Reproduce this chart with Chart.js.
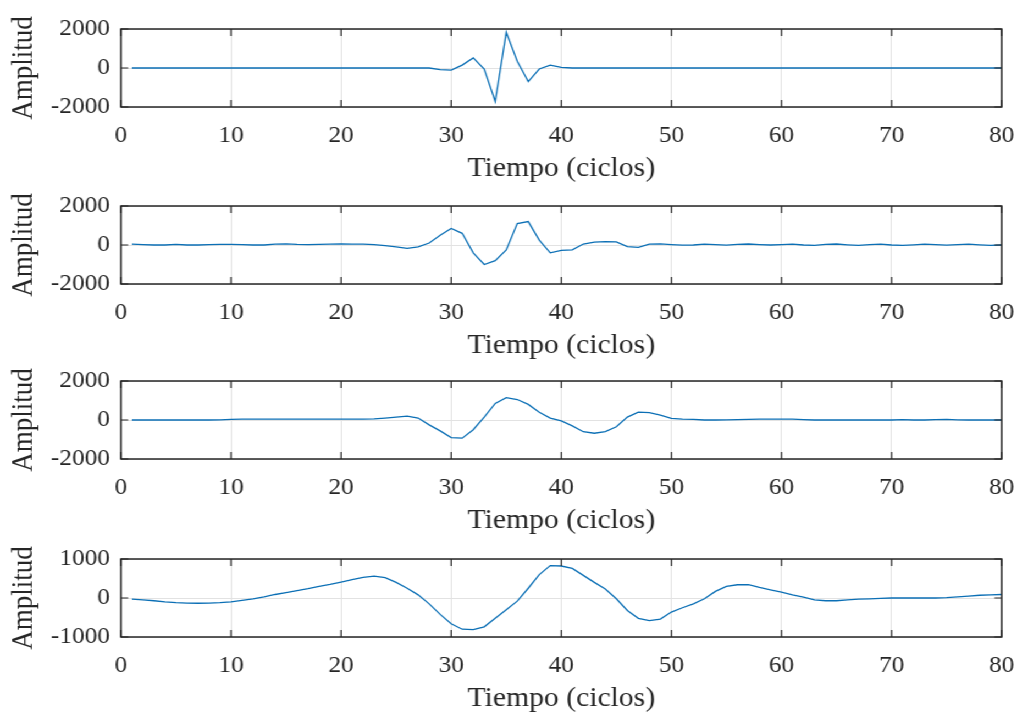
<!DOCTYPE html>
<html>
<head>
<meta charset="utf-8">
<script src="https://cdn.jsdelivr.net/npm/chart.js@4.4.1/dist/chart.umd.min.js"></script>
<style>
  html, body { margin: 0; padding: 0; background: #ffffff; overflow: hidden; }
  #page { width: 1017px; height: 717px; overflow: hidden; background: #ffffff; }
  /* the figure is laid out 925px wide and widened to the 1017px page */
  #fig { position: relative; width: 925px; height: 717px; transform: scaleX(1.0995); transform-origin: 0 0; }
  #fig canvas { position: absolute; left: 0; }
</style>
</head>
<body>
<div id="page">
<div id="fig">
  <canvas id="p1"></canvas>
  <canvas id="p2"></canvas>
  <canvas id="p3"></canvas>
  <canvas id="p4"></canvas>
</div>
</div>
<script>
// Sample times (cycles)
const time = [1,2,3,4,5,6,7,8,9,10,11,12,13,14,15,16,17,18,19,20,
              21,22,23,24,25,26,27,28,29,30,31,32,33,34,35,36,37,38,39,40,
              41,42,43,44,45,46,47,48,49,50,51,52,53,54,55,56,57,58,59,60,
              61,62,63,64,65,66,67,68,69,70,71,72,73,74,75,76,77,78,79,80];

// Signal amplitudes, one array per panel
const amp1 = [0,0,0,0,0,0,0,0,0,0, 0,0,0,0,0,0,0,0,0,0,
              0,0,0,0,0,0,0,0,-80,-110, 150,520,-50,-1720,1830,350,-700,-50,150,30,
              0,0,0,0,0,0,0,0,0,0, 0,0,0,0,0,0,0,0,0,0,
              0,0,0,0,0,0,0,0,0,0, 0,0,0,0,0,0,0,0,0,0];

const amp2 = [50,20,0,0,30,0,0,20,30,30, 20,0,0,50,60,30,20,30,40,50,
              40,40,20,-30,-100,-170,-100,100,500,850, 600,-400,-1000,-800,-250,1100,1200,250,-400,-280,
              -250,50,150,170,160,-80,-120,40,60,20, -10,0,40,20,-10,30,50,20,0,20,
              40,0,-20,30,50,10,-20,20,40,0, -20,10,40,20,-10,20,40,10,-20,0];

const amp3 = [0,0,0,0,0,0,0,0,10,30, 50,50,50,50,50,50,50,50,50,50,
              50,50,60,100,150,200,100,-250,-560,-900, -930,-500,150,850,1150,1050,800,400,100,-50,
              -300,-600,-680,-600,-350,150,400,380,250,80, 40,30,0,0,10,20,30,40,50,50,
              40,20,0,0,0,10,0,10,0,0, 20,0,0,20,30,10,0,0,10,0];

const amp4 = [-30,-50,-70,-100,-120,-130,-135,-130,-120,-100, -60,-20,30,90,140,190,240,300,350,410,
              470,530,560,520,400,250,80,-150,-420,-660, -800,-810,-740,-520,-300,-80,250,600,830,820,
              760,580,400,230,-20,-320,-520,-580,-540,-360, -250,-150,-20,170,300,340,340,270,210,150,
              80,20,-50,-70,-70,-50,-30,-20,-10,0, 0,0,0,0,10,30,50,70,80,90];

// Axis tick values
const xTicks = [0,10,20,30,40,50,60,70,80];
const yTicksWide = [-2000,0,2000];
const yTicksNarrow = [-1000,0,1000];

const panelSeries = [amp1, amp2, amp3, amp4];
const panelTicks = [yTicksWide, yTicksWide, yTicksWide, yTicksNarrow];

// Layout of the stacked axes (in the 925px-wide figure space)
const FIG_W = 925;
const plotTops = [29, 206, 381, 559];
const PLOT_H = 78;
const TOP_PAD = 24;
const X_AXIS_H = 80;
const Y_AXIS_W = 110;
const RIGHT_PAD = 14;
const CANVAS_H = TOP_PAD + PLOT_H + X_AXIS_H;

const FONT = "'Liberation Serif', 'Times New Roman', serif";
const TEXT = '#262626';

// Box around the axes plus inward tick marks on all four sides
const boxTicks = {
  id: 'boxTicks',
  afterDraw(chart) {
    const { ctx, chartArea: a, scales: { x, y } } = chart;
    const L = 7;
    ctx.save();
    ctx.strokeStyle = TEXT;
    ctx.lineWidth = 1.2;
    ctx.beginPath();
    x.ticks.forEach(t => {
      const px = x.getPixelForValue(t.value);
      ctx.moveTo(px, a.bottom); ctx.lineTo(px, a.bottom - L);
      ctx.moveTo(px, a.top);    ctx.lineTo(px, a.top + L);
    });
    y.ticks.forEach(t => {
      const py = y.getPixelForValue(t.value);
      ctx.moveTo(a.left, py);  ctx.lineTo(a.left + 6.5, py);
      ctx.moveTo(a.right, py); ctx.lineTo(a.right - 6.5, py);
    });
    ctx.stroke();
    ctx.lineWidth = 1.5;
    ctx.strokeRect(a.left, a.top, a.right - a.left, a.bottom - a.top);
    ctx.restore();
  }
};

panelSeries.forEach((series, i) => {
  const canvas = document.getElementById('p' + (i + 1));
  canvas.width = FIG_W;
  canvas.height = CANVAS_H;
  canvas.style.width = FIG_W + 'px';
  canvas.style.height = CANVAS_H + 'px';
  canvas.style.top = (plotTops[i] - TOP_PAD) + 'px';

  const yTicks = panelTicks[i];
  const points = time.map((t, k) => ({ x: t, y: series[k] }));

  new Chart(canvas, {
    type: 'line',
    data: {
      datasets: [{
        data: points,
        borderColor: '#0b6fb5',
        borderWidth: 1.3,
        pointRadius: 0,
        tension: 0,
        fill: false
      }]
    },
    options: {
      responsive: false,
      animation: false,
      devicePixelRatio: 1,
      layout: { padding: { top: TOP_PAD, right: RIGHT_PAD, left: 0, bottom: 0 } },
      plugins: { legend: { display: false }, tooltip: { enabled: false } },
      scales: {
        x: {
          type: 'linear',
          min: xTicks[0],
          max: xTicks[xTicks.length - 1],
          afterBuildTicks: s => { s.ticks = xTicks.map(v => ({ value: v })); },
          afterFit: s => { s.height = X_AXIS_H; s.paddingLeft = 0; s.paddingRight = 0; },
          border: { display: false },
          grid: { color: '#e2e2e2', lineWidth: 1, drawTicks: false },
          ticks: {
            color: TEXT,
            padding: 15,
            maxRotation: 0,
            autoSkip: false,
            font: { family: FONT, size: 23 },
            callback: v => String(v)
          },
          title: {
            display: true,
            text: 'Tiempo (ciclos)',
            color: TEXT,
            font: { family: FONT, size: 27 },
            padding: { top: 0, bottom: 2 }
          }
        },
        y: {
          min: yTicks[0],
          max: yTicks[yTicks.length - 1],
          afterBuildTicks: s => { s.ticks = yTicks.map(v => ({ value: v })); },
          afterFit: s => { s.width = Y_AXIS_W; s.paddingTop = 0; s.paddingBottom = 0; },
          border: { display: false },
          grid: { color: '#e2e2e2', lineWidth: 1, drawTicks: false },
          ticks: {
            color: TEXT,
            padding: 10,
            autoSkip: false,
            font: { family: FONT, size: 23 },
            callback: v => String(v)
          },
          title: {
            display: true,
            text: 'Amplitud',
            color: TEXT,
            font: { family: FONT, size: 27 },
            padding: { top: 6, bottom: 0 }
          }
        }
      }
    },
    plugins: [boxTicks]
  });
});
</script>
</body>
</html>
